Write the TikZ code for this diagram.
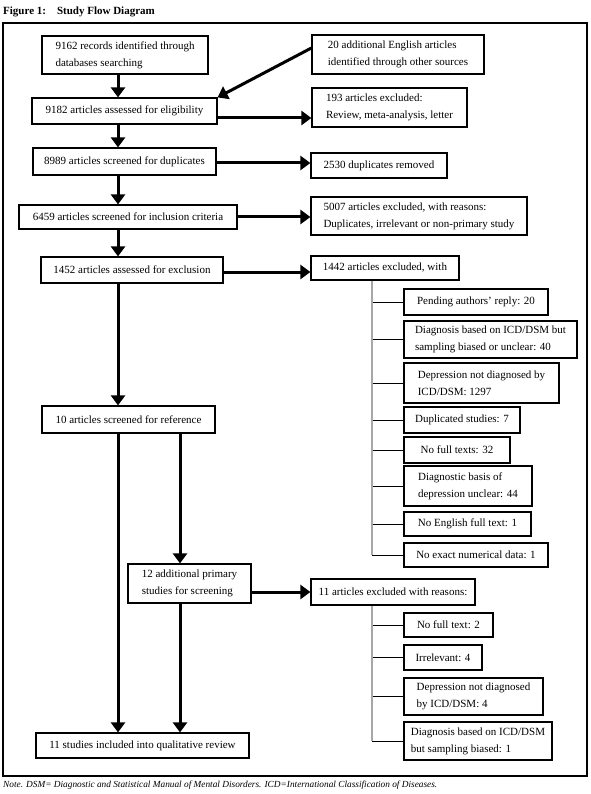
\documentclass[tikz,border=0pt]{standalone}
\usepackage{fontspec}
\setmainfont{Liberation Serif}
\usetikzlibrary{arrows.meta,calc}
\tikzset{
  box/.style={draw=black,line width=1.2pt,inner xsep=4pt,inner ysep=2pt,align=left,
    font=\fontsize{11}{17}\selectfont},
  arr/.style={line width=3pt,-{Triangle[width=14pt,length=10pt]}},
  trunk/.style={draw=gray!70,line width=1.5pt},
  twig/.style={line width=1pt},
  frame/.style={line width=1.2pt},
}
\newcommand\bx[6]{%
  \pgfmathsetmacro\bxw{#4-#2}\pgfmathsetmacro\bxh{#5-#3}%
  \pgfmathsetmacro\bxx{(#2+#4)/2}\pgfmathsetmacro\bxy{(#3+#5)/2}%
  \node[box,minimum width=\bxw pt,minimum height=\bxh pt] (#1) at (\bxx,\bxy) {#6};}
\begin{document}
\begin{tikzpicture}[x=1pt,y=-1pt]
\useasboundingbox (0,0) rectangle (590,794);
\node[anchor=base west,inner sep=0,font=\bfseries\fontsize{11}{13}\selectfont] (title) at (3,15) {Figure 1:\hspace{11pt}Study Flow Diagram};
\draw[frame] (3,23) rectangle (587,776);
\node[anchor=base west,inner sep=0,font=\itshape\fontsize{9.3}{11}\selectfont] (note) at (3,787) {Note. DSM= Diagnostic and Statistical Manual of Mental Disorders. ICD=International Classification of Diseases.};

\coordinate (spine) at (118,0);
\coordinate (spine2) at (180,0);
\coordinate (tree) at (372,0);

% main column
\bx{b1}{42}{36}{208}{74}{9162 records identified through\\databases searching}
\bx{b2}{312}{35}{484}{74}{20 additional English articles\\identified through other sources}
\bx{b3}{32}{98}{217}{124}{9182 articles assessed for eligibility}
\bx{b4}{312}{88}{467}{127}{193 articles excluded:\\Review, meta-analysis, letter}
\bx{b5}{33}{148}{216}{175}{8989 articles screened for duplicates}
\bx{b6}{311}{153}{447}{178}{2530 duplicates removed}
\bx{b7}{19}{205}{237}{229}{6459 articles screened for inclusion criteria}
\bx{b8}{311}{197}{527}{235}{5007 articles excluded, with reasons:\\Duplicates, irrelevant or non-primary study}
\bx{b9}{41}{257}{223}{283}{1452 articles assessed for exclusion}
\bx{b10}{311}{256}{459}{280}{1442 articles excluded, with}
\bx{b11}{42}{406}{215}{433}{10 articles screened for reference}
\bx{b12}{128}{564}{251}{603}{12 additional primary\\studies for screening}
\bx{b13}{311}{579}{475}{605}{11 articles excluded with reasons:}
\bx{b14}{36}{733}{249}{758}{11 studies included into qualitative review}

% exclusion reasons (first group)
\bx{c1}{404}{289}{548}{315}{Pending authors' reply: 20}
\bx{c2}{404}{321}{577}{358}{Diagnosis based on ICD/DSM but\\sampling biased or unclear: 40}
\bx{c3}{404}{363}{559}{403}{Depression not diagnosed by\\ICD/DSM: 1297}
\bx{c4}{404}{407}{520}{433}{Duplicated studies: 7}
\bx{c5}{404}{437}{510}{463}{No full texts: 32}
\bx{c6}{404}{466}{532}{506}{Diagnostic basis of\\depression unclear: 44}
\bx{c7}{404}{512}{531}{536}{No English full text: 1}
\bx{c8}{404}{543}{548}{567}{No exact numerical data: 1}

% exclusion reasons (second group)
\bx{d1}{404}{613}{493}{637}{No full text: 2}
\bx{d2}{404}{645}{482}{670}{Irrelevant: 4}
\bx{d3}{404}{678}{543}{715}{Depression not diagnosed\\by ICD/DSM: 4}
\bx{d4}{404}{722}{552}{760}{Diagnosis based on ICD/DSM\\but sampling biased: 1}

% vertical flow
\draw[arr] (spine |- b1.south) -- (spine |- b3.north);
\draw[arr] (spine |- b3.south) -- (spine |- b5.north);
\draw[arr] (spine |- b5.south) -- (spine |- b7.north);
\draw[arr] (spine |- b7.south) -- (spine |- b9.north);
\draw[arr] (spine |- b9.south) -- (spine |- b11.north);
\draw[arr] (spine |- b11.south) -- (spine |- b14.north);
\draw[arr] (spine2 |- b11.south) -- (spine2 |- b12.north);
\draw[arr] (spine2 |- b12.south) -- (spine2 |- b14.north);

% side arrows
\draw[arr] ([yshift=6.5pt]b2.west) -- (b3.north east);
\draw[arr] ([yshift=-7pt]b3.east) -- ([yshift=-7pt]b3.east -| b4.west);
\draw[arr] ([yshift=-1.5pt]b5.east) -- ([yshift=-1.5pt]b5.east -| b6.west);
\draw[arr] (b7.east) -- (b7.east -| b8.west);
\draw[arr] ([yshift=-2pt]b9.east) -- ([yshift=-2pt]b9.east -| b10.west);
\draw[arr] (b13.west -| b12.east) -- (b13.west);

% trees
\foreach \c in {c1,c2,c3,c4,c5,c6,c7,c8,d1,d2,d3,d4}
  \draw[twig] (tree |- \c.west) -- (\c.west);
\draw[trunk] (tree |- b10.south) -- (tree |- c8.west);
\draw[trunk] (tree |- b13.south) -- (tree |- d4.west);
\end{tikzpicture}
\end{document}
